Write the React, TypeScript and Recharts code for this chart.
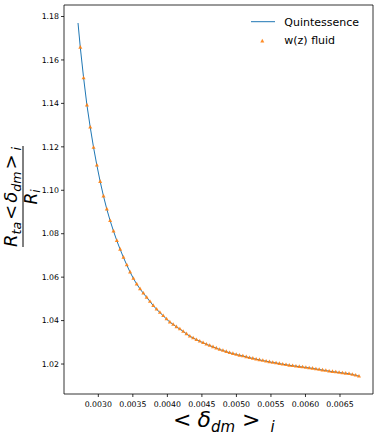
import { ComposedChart, Line, XAxis, YAxis, ReferenceArea } from "recharts";

// <δ_dm>_i on the x axis, R_ta<δ_dm>_i / R_i on the y axis
const fluidDeltaDm = [
  0.002739, 0.002787, 0.002835, 0.002883, 0.002931, 0.002979, 0.003027, 0.003075, 0.003123, 0.003171,
  0.00322, 0.003268, 0.003316, 0.003364, 0.003412, 0.00346, 0.003508, 0.003556, 0.003604, 0.003652,
  0.0037, 0.003748, 0.003796, 0.003844, 0.003892, 0.00394, 0.003988, 0.004036, 0.004084, 0.004132,
  0.004181, 0.004229, 0.004277, 0.004325, 0.004373, 0.004421, 0.004469, 0.004517, 0.004565, 0.004613,
  0.004661, 0.004709, 0.004757, 0.004805, 0.004853, 0.004901, 0.004949, 0.004997, 0.005045, 0.005093,
  0.005142, 0.00519, 0.005238, 0.005286, 0.005334, 0.005382, 0.00543, 0.005478, 0.005526, 0.005574,
  0.005622, 0.00567, 0.005718, 0.005766, 0.005814, 0.005862, 0.00591, 0.005958, 0.006006, 0.006054,
  0.006103, 0.006151, 0.006199, 0.006247, 0.006295, 0.006343, 0.006391, 0.006439, 0.006487, 0.006535,
  0.006583, 0.006631, 0.006679, 0.006727, 0.006775,
];
const fluidRatio = [
  1.1658, 1.1517, 1.1392, 1.129, 1.1197, 1.1115, 1.104, 1.0973, 1.0913, 1.086,
  1.0812, 1.0768, 1.0728, 1.0691, 1.0656, 1.0623, 1.0594, 1.0568, 1.0546, 1.0526,
  1.0507, 1.0488, 1.0469, 1.0452, 1.0437, 1.0422, 1.0407, 1.0393, 1.0382, 1.0371,
  1.0361, 1.035, 1.0339, 1.0328, 1.032, 1.0312, 1.0305, 1.0298, 1.0291, 1.0285,
  1.0279, 1.0273, 1.0267, 1.0262, 1.0257, 1.0252, 1.0248, 1.0244, 1.024, 1.0237,
  1.0233, 1.0229, 1.0226, 1.0222, 1.0219, 1.0216, 1.0213, 1.021, 1.0207, 1.0205,
  1.0202, 1.0199, 1.0197, 1.0194, 1.0192, 1.019, 1.0188, 1.0186, 1.0184, 1.0182,
  1.018, 1.0177, 1.0175, 1.0172, 1.017, 1.0167, 1.0165, 1.0163, 1.0161, 1.0159,
  1.0157, 1.0155, 1.0152, 1.0148, 1.0144,
];
// quintessence curve starts a little earlier, then runs under the fluid markers
const quintStart = { x: 0.002706, y: 1.177 };

const xTicks = [0.003, 0.0035, 0.004, 0.0045, 0.005, 0.0055, 0.006, 0.0065];
const yTicks = [1.02, 1.04, 1.06, 1.08, 1.1, 1.12, 1.14, 1.16, 1.18];
const xDomain = [0.002503, 0.006978];
const yDomain = [1.0062, 1.1853];

const BLUE = "#1f77b4";
const ORANGE = "#ff7f0e";
const FONT = "DejaVu Sans";

const fluidData = fluidDeltaDm.map((x, i) => ({ x, y: fluidRatio[i] }));
const quintData = [quintStart, ...fluidData];

function Tri(props: any) {
  const { cx, cy, index } = props;
  if (cx == null || cy == null) return <g key={index} />;
  return (
    <path
      key={index}
      d={`M${cx},${cy - 2.3} L${cx + 2},${cy + 1.3} L${cx - 2},${cy + 1.3} Z`}
      fill={ORANGE}
      fillOpacity={0.9}
    />
  );
}

export default function App() {
  const tick = { fontSize: 7.8, fill: "#000", fontFamily: FONT };
  return (
    <div style={{ position: "absolute", left: 0, top: 0, width: 379, height: 435, background: "#fff" }}>
      <ComposedChart width={379} height={435} margin={{ top: 5, right: 6, bottom: 0, left: 0 }}>
        <XAxis
          dataKey="x"
          type="number"
          domain={xDomain}
          ticks={xTicks}
          allowDataOverflow
          tickFormatter={(v: number) => v.toFixed(4)}
          tick={tick}
          tickSize={3}
          tickMargin={4}
          tickLine={{ stroke: "#000", strokeWidth: 0.8 }}
          axisLine={false}
          height={41}
        />
        <YAxis
          dataKey="y"
          type="number"
          domain={yDomain}
          ticks={yTicks}
          allowDataOverflow
          tickFormatter={(v: number) => v.toFixed(2)}
          tick={tick}
          tickSize={3}
          tickMargin={2}
          tickLine={{ stroke: "#000", strokeWidth: 0.8 }}
          axisLine={false}
          width={64}
        />
        <ReferenceArea
          x1={xDomain[0]}
          x2={xDomain[1]}
          y1={yDomain[0]}
          y2={yDomain[1]}
          fill="none"
          stroke="#000"
          strokeWidth={0.8}
          ifOverflow="visible"
        />
        <Line
          data={quintData}
          dataKey="y"
          type="linear"
          stroke={BLUE}
          strokeWidth={1}
          dot={false}
          isAnimationActive={false}
        />
        <Line
          data={fluidData}
          dataKey="y"
          type="linear"
          stroke="none"
          dot={Tri}
          activeDot={false}
          isAnimationActive={false}
        />
      </ComposedChart>
      <svg
        width={379}
        height={435}
        style={{ position: "absolute", left: 0, top: 0, pointerEvents: "none" }}
        fontFamily={FONT}
      >
        {/* legend */}
        <line x1={251} y1={21.7} x2={275} y2={21.7} stroke={BLUE} strokeWidth={1} />
        <text x={284.3} y={25.7} fontSize={11} fill="#000">Quintessence</text>
        <path d="M262.3,38.8 L264.3,42.4 L260.3,42.4 Z" fill={ORANGE} fillOpacity={0.9} />
        <text x={284.3} y={44} fontSize={11} fill="#000">w(z) fluid</text>

        {/* x label */}
        <text x={173} y={427} fontSize={22} fill="#000">
          <tspan>&lt;</tspan>
          <tspan dx={6} fontStyle="italic">δ</tspan>
          <tspan fontSize={15} fontStyle="italic" dy={4.5}>dm</tspan>
          <tspan dx={7} dy={-4.5}>&gt;</tspan>
          <tspan fontSize={15} fontStyle="italic" dx={10} dy={4.5}>i</tspan>
        </text>

        {/* y label: fraction */}
        <g transform="translate(0,197) rotate(-90)">
          <text x={0} y={17} fontSize={18} fill="#000" textAnchor="middle">
            <tspan fontStyle="italic">R</tspan>
            <tspan fontSize={12.6} fontStyle="italic" dy={3.5}>ta</tspan>
            <tspan dx={2} dy={-3.5}>&lt;</tspan>
            <tspan dx={2} fontStyle="italic">δ</tspan>
            <tspan fontSize={12.6} fontStyle="italic" dy={3.5}>dm</tspan>
            <tspan dx={2} dy={-3.5}>&gt;</tspan>
            <tspan fontSize={12.6} fontStyle="italic" dx={4} dy={3.5}>i</tspan>
          </text>
          <line x1={-50} y1={23} x2={51} y2={23} stroke="#000" strokeWidth={1} />
          <text x={0} y={37} fontSize={17} fill="#000" textAnchor="middle">
            <tspan fontStyle="italic">R</tspan>
            <tspan fontSize={12} fontStyle="italic" dy={3}>i</tspan>
          </text>
        </g>
      </svg>
    </div>
  );
}
